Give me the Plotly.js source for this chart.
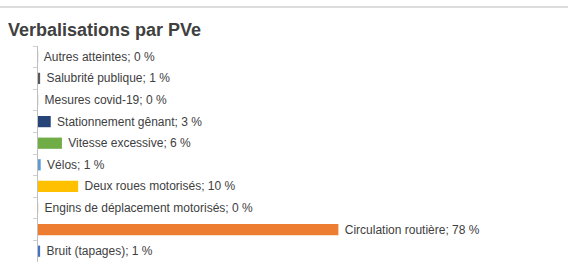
<!DOCTYPE html>
<html>
<head>
<meta charset="utf-8">
<script src="https://cdn.plot.ly/plotly-3.0.1.min.js"></script>
<style>
  html, body { margin: 0; padding: 0; background: #ffffff; }
  #wrap { position: relative; width: 568px; height: 266px; overflow: hidden; }
  #topline { position: absolute; left: 0; top: 6px; width: 568px; height: 2px; background: #dcdcdc; }
  #chart { position: absolute; left: 0; top: 0; width: 568px; height: 266px; }
</style>
</head>
<body>
<div id="wrap">
  <div id="chart"></div>
  <div id="topline"></div>
</div>
<script>
const categories = [
  "Autres atteintes",
  "Salubrité publique",
  "Mesures covid-19",
  "Stationnement gênant",
  "Vitesse excessive",
  "Vélos",
  "Deux roues motorisés",
  "Engins de déplacement motorisés",
  "Circulation routière",
  "Bruit (tapages)"
];
const values = [0.05, 0.55, 0.05, 3.3, 6.2, 0.7, 10.4, 0.05, 77.8, 0.55];
const percentLabels = ["0", "1", "0", "3", "6", "1", "10", "0", "78", "1"];
const colors = ["#a5a5a5", "#595959", "#a5a5a5", "#264478", "#70ad47", "#5b9bd5", "#ffc000", "#a5a5a5", "#ed7d31", "#4472c4"];

const textLabels = categories.map((c, i) => " " + c + "; " + percentLabels[i] + " %");

const trace = {
  type: "bar",
  orientation: "h",
  y: categories,
  x: values,
  text: textLabels,
  textposition: "outside",
  texttemplate: "%{text}",
  constraintext: "none",
  cliponaxis: false,
  textfont: { family: "Liberation Sans, Arial, sans-serif", size: 12, color: "#404040" },
  marker: { color: colors },
  hoverinfo: "skip"
};

const layout = {
  width: 568,
  height: 266,
  margin: { l: 38, r: 8, t: 46, b: 4 },
  paper_bgcolor: "#ffffff",
  plot_bgcolor: "#ffffff",
  showlegend: false,
  bargap: 0.48,
  title: {
    text: "<b>Verbalisations par PVe</b>",
    x: 0, xref: "container", xanchor: "left",
    y: 1, yref: "container", yanchor: "top",
    pad: { l: 8, t: 23 },
    font: { family: "Liberation Sans, Arial, sans-serif", size: 18, color: "#404040" }
  },
  xaxis: {
    range: [0, 135.2],
    visible: false,
    showgrid: false,
    zeroline: false,
    fixedrange: true
  },
  yaxis: {
    type: "category",
    autorange: "reversed",
    showticklabels: false,
    showline: true,
    linecolor: "#bfbfbf",
    linewidth: 1,
    ticks: "outside",
    tickson: "boundaries",
    ticklen: 4,
    tickcolor: "#d0d0d0",
    showgrid: false,
    zeroline: false,
    fixedrange: true
  }
};

Plotly.newPlot("chart", [trace], layout, { displayModeBar: false, staticPlot: true });
</script>
</body>
</html>
